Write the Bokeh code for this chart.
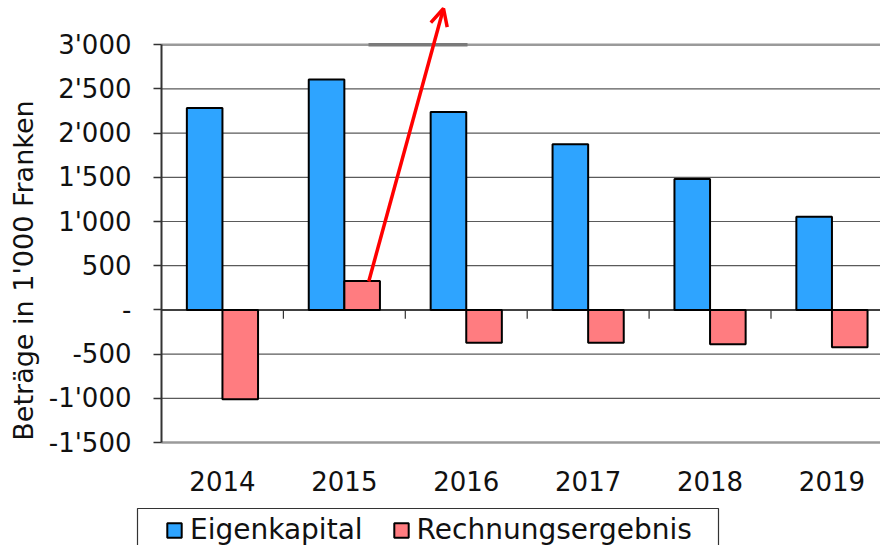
import numpy as np
from bokeh.plotting import figure
from bokeh.models import (Range1d, FixedTicker, Arrow, OpenHead, Legend,
                          LegendItem, Label)
from bokeh.embed import file_html
from bokeh.resources import INLINE

# ---- data ----
years = ["2014", "2015", "2016", "2017", "2018", "2019"]
eigenkapital = [2285, 2605, 2240, 1873, 1480, 1053]
rechnungsergebnis = [-1010, 328, -373, -373, -389, -423]
y_ticks = [-1500, -1000, -500, 0, 500, 1000, 1500, 2000, 2500, 3000]
y_label = "Beträge in 1'000 Franken"
series_names = ["Eigenkapital", "Rechnungsergebnis"]

FONT = "DejaVu Sans"
BLUE = "#2EA4FF"
RED = "#FF7C80"
TXT = "#111111"

W, H = 880, 545
LEFT_PX = 161          # where the value axis sits
PPU_X = 121.9          # pixels per category
PPU_Y = 442 / 5000     # pixels per value unit
Y_TOP = 3500           # value at the top edge of the canvas


def sx(px):
    """screen x (px) -> data x"""
    return (px - LEFT_PX) / PPU_X


def sy(py):
    """screen y (px from top) -> data y"""
    return Y_TOP - py / PPU_Y


idx = np.arange(len(years)) + 0.5
y_min, y_max = y_ticks[0], y_ticks[-1]
x_end = sx(W)


def fmt(v):
    if v == 0:
        return "-"
    return f"{v:,}".replace(",", "'")


p = figure(width=W, height=H,
           x_range=Range1d(sx(0), x_end), y_range=Range1d(sy(H), Y_TOP),
           output_backend="svg", toolbar_location=None, min_border=0)
p.outline_line_color = None
p.xgrid.visible = False
p.ygrid.visible = False

# grid lines (from the value axis to the right edge)
inner = [t for t in y_ticks if t not in (y_min, 0, y_max)]
p.segment(x0=0, x1=x_end, y0=inner, y1=inner, line_color="#5a5a5a",
          line_width=1.2)
p.segment(x0=0, x1=x_end, y0=[y_min, y_max], y1=[y_min, y_max],
          line_color="#9a9a9a", line_width=2.5)

# y axis fixed at x = 0
yax = p.yaxis[0]
yax.fixed_location = 0
yax.ticker = FixedTicker(ticks=y_ticks)
yax.bounds = (y_min, y_max)
yax.major_label_overrides = {t: fmt(t) for t in y_ticks}
yax.major_label_text_font = FONT
yax.major_label_text_font_size = "26px"
yax.major_label_text_color = TXT
yax.major_tick_out = 8
yax.major_tick_in = 0
yax.minor_tick_out = 0
yax.minor_tick_in = 0
yax.major_tick_line_color = "#333333"
yax.major_tick_line_width = 1.5
yax.axis_line_color = "#333333"
yax.axis_line_width = 2
yax.major_label_standoff = 22

# x axis (category labels only) fixed at the bottom of the plot area
xax = p.xaxis[0]
xax.fixed_location = y_min
xax.ticker = FixedTicker(ticks=list(idx))
xax.major_label_overrides = {float(x): y for x, y in zip(idx, years)}
xax.major_label_text_font = FONT
xax.major_label_text_font_size = "26px"
xax.major_label_text_color = TXT
xax.axis_line_color = None
xax.major_tick_line_color = None
xax.minor_tick_line_color = None
xax.major_label_standoff = 22

# y-axis title
p.add_layout(Label(x=sx(23), y=sy(270), text=y_label, angle=90,
                   angle_units="deg", text_align="center",
                   text_baseline="middle", text_font=FONT,
                   text_font_size="27px", text_color=TXT))

# bars
bw = 0.292
r1 = p.vbar(x=idx - bw / 2, top=eigenkapital, bottom=0, width=bw,
            fill_color=BLUE, line_color="black", line_width=2)
r2 = p.vbar(x=idx + bw / 2, top=rechnungsergebnis, bottom=0, width=bw,
            fill_color=RED, line_color="black", line_width=2)

# zero line and category boundary ticks
p.segment(x0=[0], x1=[x_end], y0=[0], y1=[0], line_color="black",
          line_width=1.5)
bounds = np.arange(1, len(years))
p.segment(x0=bounds, y0=0, x1=bounds, y1=-100, line_color="#333333",
          line_width=1.2)

# dark segment on the top line
p.segment(x0=[sx(368)], y0=[y_max], x1=[sx(467)], y1=[y_max],
          line_color="#7a7a7a", line_width=3.5)

# red arrow from the 2015 result
p.add_layout(Arrow(end=OpenHead(line_color="#FF0000", line_width=3.5, size=17),
                   x_start=idx[1] + 0.2, y_start=rechnungsergebnis[1] * 0.98,
                   x_end=sx(443), y_end=sy(8),
                   line_color="#FF0000", line_width=3.5))

# legend box + legend
p.quad(left=[sx(137)], right=[sx(718)], top=[sy(508)], bottom=[sy(H + 30)],
       fill_color=None, line_color="#333333", line_width=1.2)
legend = Legend(items=[LegendItem(label=series_names[0], renderers=[r1]),
                       LegendItem(label=series_names[1], renderers=[r2])],
                orientation="horizontal", location=(165, -1),
                border_line_color=None, background_fill_alpha=0,
                label_text_font=FONT, label_text_font_size="28px",
                label_text_color=TXT,
                glyph_width=18, glyph_height=18, spacing=29, padding=3,
                margin=0, label_standoff=7, label_height=32)
p.add_layout(legend)

open("out.html", "w").write(file_html(p, INLINE))
